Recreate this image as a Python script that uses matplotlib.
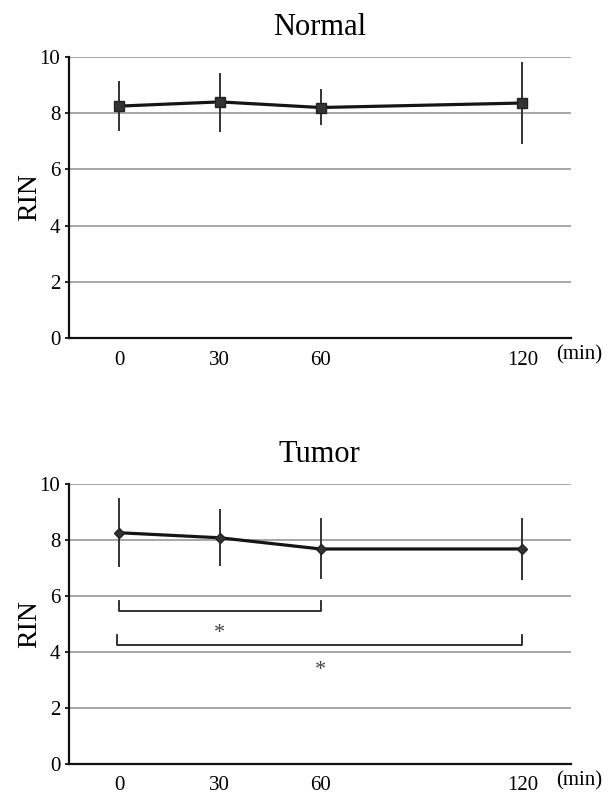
import matplotlib
matplotlib.use("Agg")
import matplotlib.pyplot as plt

times = [0, 30, 60, 120]
xtick_labels = ["0", "30", "60", "120"]
yticks = [0, 2, 4, 6, 8, 10]

normal_mean = [8.25, 8.40, 8.20, 8.36]
normal_upper = [9.13, 9.43, 8.85, 9.82]
normal_lower = [7.37, 7.34, 7.57, 6.89]

tumor_mean = [8.26, 8.08, 7.68, 7.68]
tumor_upper = [9.50, 9.10, 8.78, 8.79]
tumor_lower = [7.04, 7.07, 6.59, 6.56]

# significance brackets: (x_start, x_end, bar_y, tick_top_y, star_x, star_y)
brackets = [
    (0, 60, 5.47, 5.81, 30, 4.91),
    (-0.5, 120, 4.25, 4.59, 60, 3.59),
]

plt.rcParams['font.family'] = ['Liberation Serif', 'DejaVu Serif']

fig = plt.figure(figsize=(6.12, 7.94), dpi=100)

def draw_panel(rect, title, mean, upper, lower, marker, msize):
    ax = fig.add_axes(rect)
    ax.set_xlim(-15, 134.5)
    ax.set_ylim(0, 10)
    ax.set_yticks(yticks)
    ax.set_xticks(times)
    ax.set_xticklabels(xtick_labels)
    for y in yticks[1:]:
        ax.axhline(y, color='#a0a0a0', lw=1.3, zorder=1)
    for s in ['top', 'right']:
        ax.spines[s].set_visible(False)
    for s in ['left', 'bottom']:
        ax.spines[s].set_linewidth(1.6)
        ax.spines[s].set_color('#111111')
    ax.tick_params(axis='y', length=3, width=1.2, labelsize=15, pad=3)
    ax.tick_params(axis='x', length=0, labelsize=15, pad=9)
    yerr = [[m - l for m, l in zip(mean, lower)], [u - m for m, u in zip(mean, upper)]]
    ax.errorbar(times, mean, yerr=yerr, fmt='none', ecolor='#333333', elinewidth=1.4,
                capsize=0, zorder=2)
    ax.plot(times, mean, color='#151515', lw=2.3, marker=marker, markersize=msize,
            markerfacecolor='#333333', markeredgecolor='#222222', zorder=3)
    ax.set_ylabel("RIN", fontsize=20, labelpad=-2)
    ax.set_title(title, fontsize=22, pad=16)
    ax.text(1.017, -0.06, "(min)", transform=ax.transAxes, fontsize=15,
            ha='center', va='center')
    return ax

ax1 = draw_panel([0.112, 0.5743, 0.821, 0.354], "Normal", normal_mean, normal_upper,
                 normal_lower, 's', 7)
ax2 = draw_panel([0.112, 0.0378, 0.821, 0.3526], "Tumor", tumor_mean, tumor_upper,
                 tumor_lower, 'D', 5)

for x0, x1, yb, yt, sx, sy in brackets:
    ax2.plot([x0, x0, x1, x1], [yt, yb, yb, yt], color='#222222', lw=1.3, zorder=3)
    ax2.annotate("*", xy=(sx, sy), xytext=(0, -5), textcoords='offset points',
                 fontsize=16, ha='center', va='center', color='#444444')

fig.savefig("out.png", dpi=100)
